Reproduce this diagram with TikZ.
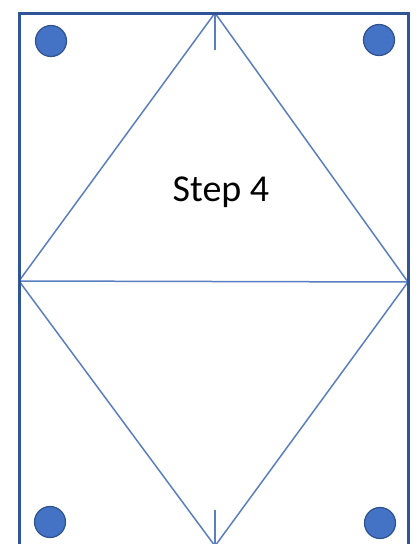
\documentclass[tikz,border=0pt]{standalone}
\usepackage{fontspec}
\setmainfont{Carlito}
\definecolor{frame}{HTML}{2F5597}
\definecolor{thin}{HTML}{5B7EC0}
\definecolor{dotfill}{HTML}{4472C4}
\definecolor{dotline}{HTML}{2F528F}
\begin{document}
\begin{tikzpicture}[x=1pt,y=-1pt,
  thinline/.style={draw=thin,line width=1.5pt},
  dot/.style={circle,fill=dotfill,draw=dotline,line width=1.2pt,minimum size=31pt,inner sep=0pt}]
\useasboundingbox (0,0) rectangle (419,544);
\clip (0,0) rectangle (419,544);
\coordinate (T) at (215,13);
\coordinate (B) at (215,546);
\coordinate (L) at (19,281);
\coordinate (R) at (408,282);
\coordinate (Tt) at (215,50);
\coordinate (Bt) at (215,510);
\draw[thinline] (T) -- (L) -- (B) -- (R) -- cycle;
\draw[thinline] (L) -- (R);
\draw[thinline] (T) -- (Tt);
\draw[thinline] (Bt) -- (B);
\draw[draw=frame,line width=3pt] (19,560) -- (19,13) -- (408,13) -- (408,560);
\node[dot] (d1) at (51,41) {};
\node[dot] (d2) at (379,40) {};
\node[dot] (d3) at (50,522) {};
\node[dot] (d4) at (380,523) {};
\node[font=\fontsize{38}{42}\selectfont] (lbl) at (221,192) {Step 4};
\end{tikzpicture}
\end{document}
